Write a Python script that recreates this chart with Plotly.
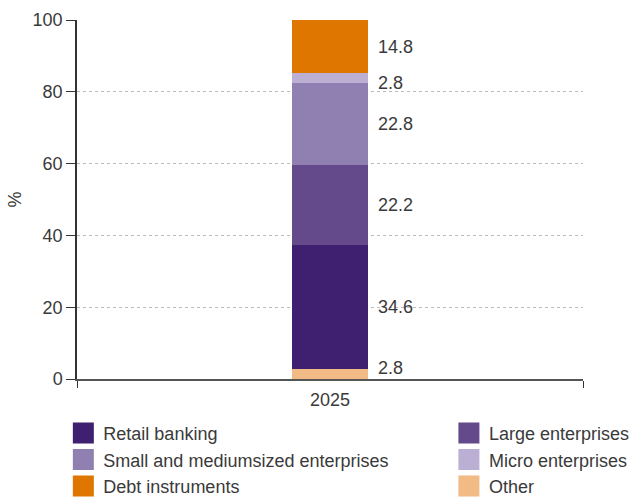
import plotly.graph_objects as go

categories = ["2025"]
series_names = ["Other", "Retail banking", "Large enterprises",
                "Small and mediumsized enterprises", "Micro enterprises", "Debt instruments"]
values = [2.8, 34.6, 22.2, 22.8, 2.8, 14.8]
colors = ["#F2BA84", "#3F1F6F", "#644A8B", "#9080B2", "#BBAFD4", "#DE7600"]
legend_ids = ["legend2", "legend", "legend2", "legend", "legend2", "legend"]
legend_ranks = [3, 1, 1, 2, 2, 3]
y_ticks = [0, 20, 40, 60, 80, 100]

FONT = "Liberation Sans"
TXT = "#3a3a3a"
FS = 18

fig = go.Figure()
for name, v, c in zip(series_names, values, colors):
    fig.add_trace(go.Bar(
        x=categories, y=[v], name=name, marker=dict(color=c, line=dict(width=0)),
        width=0.15, showlegend=False, legendgroup=name, hoverinfo="skip",
    ))

# legend entries (large square swatches)
for name, c, lg, rk in zip(series_names, colors, legend_ids, legend_ranks):
    fig.add_trace(go.Scatter(
        x=[None], y=[None], mode="markers", name=name, legend=lg, legendrank=rk,
        legendgroup=name,
        marker=dict(symbol="square", size=16, color=c, line=dict(color=c, width=5)),
    ))

# value labels to the right of the bar, at segment centres
cum = 0
label_shift = [6, 0, 0, 0, -5, 0]
for v, s in zip(values, label_shift):
    fig.add_annotation(x=0, y=cum + v / 2, text=f"{v:.1f}", showarrow=False,
                       xanchor="left", yanchor="middle", xshift=46, yshift=s,
                       font=dict(family=FONT, size=FS, color=TXT))
    cum += v

legend_common = dict(yanchor="top", xanchor="left", orientation="v", tracegroupgap=3,
                     font=dict(family=FONT, size=FS, color=TXT), itemsizing="trace",
                     traceorder="normal", bgcolor="rgba(0,0,0,0)", borderwidth=0)

fig.update_layout(
    width=637, height=497,
    margin=dict(l=77, r=54, t=20, b=118, autoexpand=False),
    paper_bgcolor="white", plot_bgcolor="white",
    barmode="stack",
    font=dict(family=FONT, size=FS, color=TXT),
    showlegend=True,
    legend=dict(x=-0.027, y=-0.1, **legend_common),
    legend2=dict(x=0.735, y=-0.1, **legend_common),
)
fig.update_xaxes(type="category", showline=True, linecolor="#555555", linewidth=1.5,
                 ticks="outside", tickson="boundaries", ticklen=7, tickcolor="#333333",
                 showgrid=True, gridcolor="#BBBBBB", griddash="dot", gridwidth=1,
                 ticklabelstandoff=4,
                 tickfont=dict(family=FONT, size=FS, color=TXT))
fig.update_yaxes(range=[0, 100], tickvals=y_ticks, showline=True, linecolor="#333333",
                 linewidth=1.5, ticks="outside", ticklen=9, tickcolor="#333333",
                 showgrid=True, gridcolor="#BBBBBB", griddash="dot", gridwidth=1,
                 zeroline=False, tickfont=dict(family=FONT, size=FS, color=TXT),
                 title=dict(text="%", standoff=6, font=dict(family=FONT, size=FS, color=TXT)))

fig.write_html("out.html")
